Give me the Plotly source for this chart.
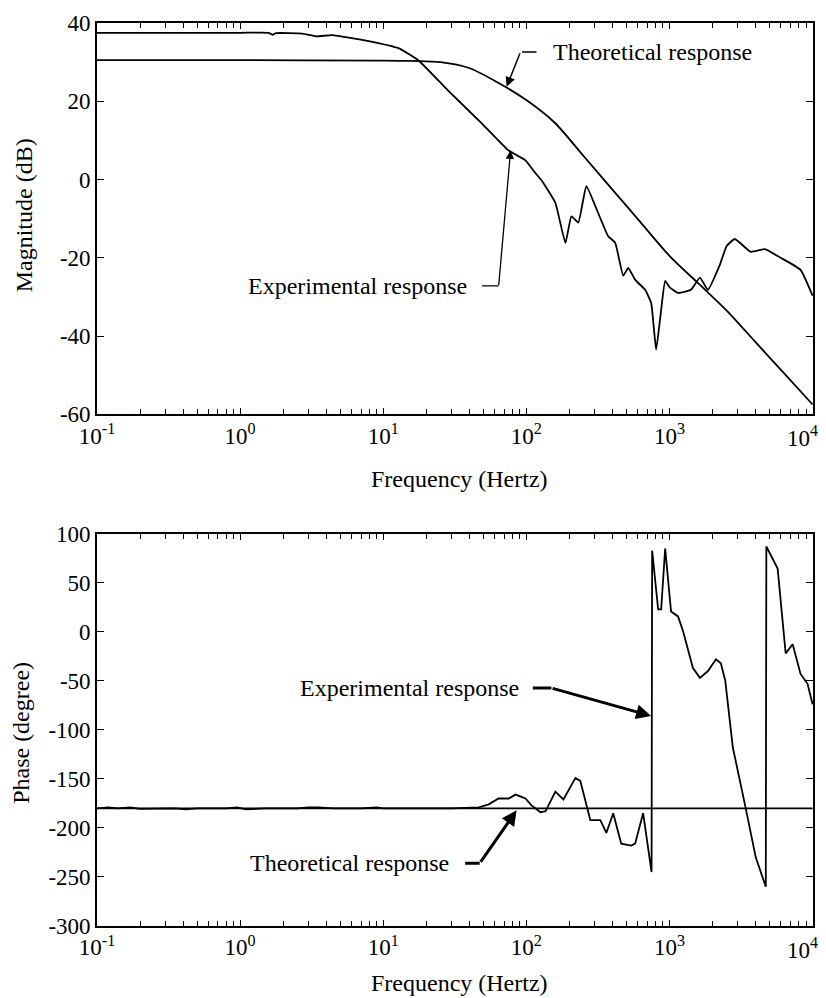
import math
import plotly.graph_objects as go
from plotly.subplots import make_subplots

# ---------------- data ----------------
# Magnitude plot
mag_theo_freq = [0.1, 1, 10, 15.8, 25.1, 39.8, 63.1, 100, 158, 251, 398, 631,
                 1000, 1585, 2512, 3981, 6310, 10000]
mag_theo_db = [30.5, 30.5, 30.4, 30.3, 30.0, 28.5, 24.8, 20.3, 14.5, 6.0, -2.5, -11.0,
               -19.5, -26.5, -33.5, -41.5, -49.5, -57.5]

mag_exp_freq = [0.1, 0.316, 1.0, 1.58, 1.68, 1.78, 2.72, 3.40, 4.40, 7.59,
                12.9, 17.8, 28.8, 49.0, 75.2, 98.6, 115.9, 127.6, 159.6, 187.5,
                206.5, 230.7, 262.4, 303.4, 373.3, 417.8, 475.3, 515.2, 575.4, 676.1,
                744.7, 807.2, 875.0, 933.3, 1000, 1148, 1413, 1633, 1858, 2239,
                2512, 2864, 3698, 4634, 5984, 8241, 10000]
mag_exp_db = [37.5, 37.5, 37.5, 37.5, 37.0, 37.4, 37.3, 36.6, 36.9, 35.5,
              33.5, 30.3, 22.5, 14.3, 7.4, 4.9, 1.6, -0.2, -6.0, -16.2,
              -9.4, -11.0, -1.7, -6.8, -14.5, -16.2, -24.6, -22.6, -25.6, -28.2,
              -31.5, -43.5, -33.3, -25.9, -27.5, -29.0, -28.2, -25.1, -28.2, -22.0,
              -17.0, -15.2, -18.5, -17.8, -20.0, -23.1, -29.7]

# Phase plot
ph_theo_freq = [0.1, 10000]
ph_theo_deg = [-180, -180]

ph_exp_freq = [0.1, 0.12, 0.14, 0.17, 0.2, 0.35, 0.42, 0.5, 0.8, 0.95, 1.1, 1.5,
               2.5, 3.0, 3.5, 4.5, 7.0, 9.0, 10, 30, 46.5, 54.6, 64.0, 75.2, 84.1,
               98.6, 108.6, 125.6, 136.1, 159.6, 181.6, 220.3, 238.2, 279.9, 328.9,
               362.2, 404.6, 460.3, 540.8, 575.4, 654.6, 749.9, 756.8, 833.7, 875.0,
               933.3, 1026, 1148, 1245, 1459, 1633, 1858, 2113, 2286, 2455,
               2773, 3412, 4009, 4710, 4753, 5702, 6486, 7261, 8241, 9226, 10000]
ph_exp_deg = [-180, -179, -180, -179, -180.5, -180, -181, -180, -180, -179, -181, -180,
              -180, -179, -179, -180, -180, -179, -180, -180, -179, -176, -170, -170, -166,
              -170, -177, -184, -183, -163, -171, -149, -152, -192, -192,
              -205, -185, -216, -218, -216, -185, -245, 82.7, 22.8, 22.8,
              84.8, 20.8, 15.7, 0.5, -37, -47, -40, -28, -32, -50,
              -118, -180, -230, -260, 87, 64.5, -22, -12.7, -43, -53, -74]

mag_ticks = [-60, -40, -20, 0, 20, 40]
mag_tick_labels = ["-60", "-40", "-20", "0", "20", "40"]
phase_ticks = [-300, -250, -200, -150, -100, -50, 0, 50, 100]
phase_tick_labels = ["-300", "-250", "-200", "-150", "-100", "-50", "0", "50", "100"]
decade_vals = [0.1, 1, 10, 100, 1000]
decade_labels = ["10<sup>-1</sup>", "10<sup>0</sup>", "10<sup>1</sup>",
                 "10<sup>2</sup>", "10<sup>3</sup>"]
last_decade_val = 10000
last_decade_label = "10<sup>4</sup>"
minor_mults = [2, 3, 4, 5, 6, 7, 8, 9]

# ---------------- figure ----------------
FONT = "Liberation Serif"
FS_TICK = 23
FS_TEXT = 24

fig = make_subplots(rows=2, cols=1, vertical_spacing=0.1323)

fig.add_trace(go.Scatter(x=mag_theo_freq, y=mag_theo_db, mode="lines",
                         line=dict(color="black", width=1.8, shape="spline", smoothing=0.8),
                         name="Theoretical response", showlegend=False), row=1, col=1)
fig.add_trace(go.Scatter(x=mag_exp_freq, y=mag_exp_db, mode="lines",
                         line=dict(color="black", width=1.8, shape="spline", smoothing=0.4),
                         name="Experimental response", showlegend=False), row=1, col=1)
fig.add_trace(go.Scatter(x=ph_theo_freq, y=ph_theo_deg, mode="lines",
                         line=dict(color="black", width=1.8),
                         name="Theoretical response", showlegend=False), row=2, col=1)
fig.add_trace(go.Scatter(x=ph_exp_freq, y=ph_exp_deg, mode="lines",
                         line=dict(color="black", width=1.8),
                         name="Experimental response", showlegend=False), row=2, col=1)

minor_vals = [m * d for d in decade_vals for m in minor_mults] + [last_decade_val]

xaxis_common = dict(type="log", range=[-1, 4.003], tickmode="array",
                    tickvals=decade_vals, ticktext=decade_labels,
                    ticks="inside", ticklen=6, tickwidth=1.2, tickcolor="black",
                    minor=dict(tickmode="array", tickvals=minor_vals, ticks="inside",
                               ticklen=5, tickwidth=1.2, tickcolor="black", showgrid=False),
                    showline=True, linecolor="black", linewidth=1.6, mirror="ticks",
                    showgrid=False, zeroline=False,
                    tickfont=dict(family=FONT, size=FS_TICK, color="black"))
yaxis_common = dict(ticks="inside", ticklen=7, tickwidth=1.2, tickcolor="black",
                    showline=True, linecolor="black", linewidth=1.6, mirror="ticks",
                    showgrid=False, zeroline=False,
                    tickfont=dict(family=FONT, size=FS_TICK, color="black"))

fig.update_xaxes(**xaxis_common)
fig.update_yaxes(**yaxis_common)
fig.update_yaxes(range=[-60, 40], tickmode="array", tickvals=mag_ticks,
                 ticktext=mag_tick_labels, row=1, col=1)
fig.update_yaxes(range=[-300, 100], tickmode="array", tickvals=phase_ticks,
                 ticktext=phase_tick_labels, row=2, col=1)

fig.update_layout(
    width=826, height=998,
    margin=dict(l=97, r=11, t=19, b=72),
    paper_bgcolor="white", plot_bgcolor="white",
    font=dict(family=FONT, size=FS_TEXT, color="black"),
    showlegend=False,
)
fig.update_layout(yaxis=dict(domain=[0.5667, 1.0]), yaxis2=dict(domain=[0.0, 0.4344]))

txt = dict(family=FONT, size=FS_TEXT, color="black")
tick_txt = dict(family=FONT, size=FS_TICK, color="black")
ann = []
# axis titles
ann.append(dict(text="Magnitude (dB)", xref="paper", yref="paper", x=-0.102, y=0.787,
                textangle=-90, showarrow=False, font=txt, xanchor="center", yanchor="middle"))
ann.append(dict(text="Phase (degree)", xref="paper", yref="paper", x=-0.106, y=0.214,
                textangle=-90, showarrow=False, font=txt, xanchor="center", yanchor="middle"))
ann.append(dict(text="Frequency (Hertz)", xref="paper", yref="paper", x=0.5056, y=0.495,
                showarrow=False, font=txt, xanchor="center", yanchor="middle"))
ann.append(dict(text="Frequency (Hertz)", xref="paper", yref="paper", x=0.5056, y=-0.0628,
                showarrow=False, font=txt, xanchor="center", yanchor="middle"))

# last decade label (shifted left so it stays inside the page, as in the print)
ann.append(dict(text=last_decade_label, xref="x", yref="y", x=math.log10(last_decade_val),
                y=-60, xanchor="center", yanchor="top", xshift=-10, yshift=-6,
                showarrow=False, font=tick_txt))
ann.append(dict(text=last_decade_label, xref="x2", yref="y2", x=math.log10(last_decade_val),
                y=-300, xanchor="center", yanchor="top", xshift=-10, yshift=-6,
                showarrow=False, font=tick_txt))

# --- magnitude plot labels (annotation x in log10 units) ---
ann.append(dict(text="Theoretical response", xref="x", yref="y", x=2.169, y=32.6,
                xanchor="left", yanchor="middle", showarrow=False, font=txt))
ann.append(dict(text="", xref="x", yref="y", x=2.071, y=32.6, ax=-16, ay=0,
                showarrow=True, arrowhead=0, arrowwidth=1.5, arrowcolor="black"))
ann.append(dict(text="", xref="x", yref="y", x=1.862, y=23.7, ax=14, ay=-35,
                showarrow=True, arrowhead=2, arrowsize=1.3, arrowwidth=1.5, arrowcolor="black"))

ann.append(dict(text="Experimental response", xref="x", yref="y", x=1.597, y=-27.2,
                xanchor="right", yanchor="middle", showarrow=False, font=txt))
ann.append(dict(text="", xref="x", yref="y", x=1.806, y=-27.2, ax=-18, ay=0,
                showarrow=True, arrowhead=0, arrowwidth=1.3, arrowcolor="black"))
ann.append(dict(text="", xref="x", yref="y", x=1.89, y=7.4, ax=-12, ay=136,
                showarrow=True, arrowhead=2, arrowsize=1.3, arrowwidth=1.3, arrowcolor="black"))

# --- phase plot labels ---
ann.append(dict(text="Experimental response", xref="x2", yref="y2", x=1.96, y=-57.4,
                xanchor="right", yanchor="middle", showarrow=False, font=txt))
ann.append(dict(text="", xref="x2", yref="y2", x=2.175, y=-57.4, ax=-20, ay=0,
                showarrow=True, arrowhead=0, arrowwidth=3, arrowcolor="black"))
ann.append(dict(text="", xref="x2", yref="y2", x=2.872, y=-85.8, ax=-100, ay=-28,
                showarrow=True, arrowhead=2, arrowsize=1.0, arrowwidth=3, arrowcolor="black"))

ann.append(dict(text="Theoretical response", xref="x2", yref="y2", x=1.472, y=-236,
                xanchor="right", yanchor="middle", showarrow=False, font=txt))
ann.append(dict(text="", xref="x2", yref="y2", x=1.674, y=-236, ax=-16, ay=0,
                showarrow=True, arrowhead=0, arrowwidth=3, arrowcolor="black"))
ann.append(dict(text="", xref="x2", yref="y2", x=1.932, y=-182, ax=-37, ay=53,
                showarrow=True, arrowhead=2, arrowsize=1.0, arrowwidth=3, arrowcolor="black"))

fig.update_layout(annotations=ann)

fig.write_html("out.html")
